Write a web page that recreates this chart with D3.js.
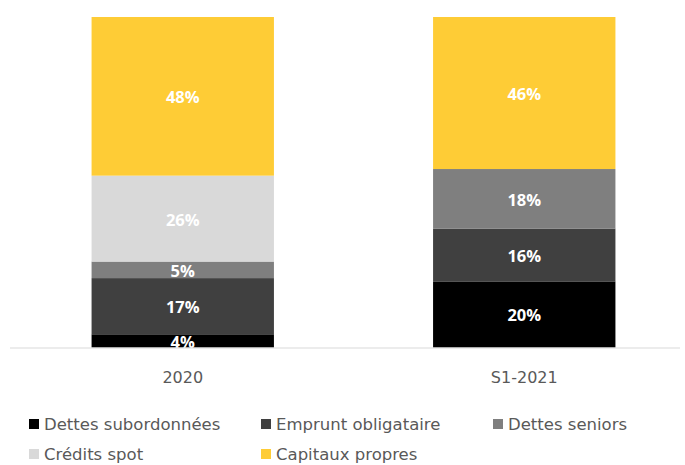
<!DOCTYPE html>
<html>
<head>
<meta charset="utf-8">
<script src="https://cdn.jsdelivr.net/npm/d3@7"></script>
<style>
  body { margin: 0; background: #fff; }
  svg text { font-family: "DejaVu Sans", Verdana, sans-serif; }
</style>
</head>
<body>
<div id="chart-area"></div>
<script>
// data
var categories = ["2020", "S1-2021"];
var seriesNames = ["Dettes subordonnées", "Emprunt obligataire", "Dettes seniors", "Crédits spot", "Capitaux propres"];
var dettesSubordonnees = [4, 20];
var empruntObligataire = [17, 16];
var dettesSeniors = [5, 18];
var creditsSpot = [26, 0];
var capitauxPropres = [48, 46];

var colors = ["#000000", "#404040", "#7f7f7f", "#d9d9d9", "#fecc36"];

var width = 685, height = 465;

var svg = d3.select("#chart-area")
    .append("svg")
        .attr("width", width)
        .attr("height", height);

var rows = categories.map(function(c, i) {
    return {
        cat: c,
        "Dettes subordonnées": dettesSubordonnees[i],
        "Emprunt obligataire": empruntObligataire[i],
        "Dettes seniors": dettesSeniors[i],
        "Crédits spot": creditsSpot[i],
        "Capitaux propres": capitauxPropres[i]
    };
});

var stacked = d3.stack().keys(seriesNames)(rows);

var xScale = d3.scaleBand()
    .domain(categories)
    .range([12, 695])
    .paddingInner(0.466)
    .paddingOuter(0.233);

var yScale = d3.scaleLinear()
    .domain([0, 100])
    .range([347.5, 17]);

var color = d3.scaleOrdinal().domain(seriesNames).range(colors);

var layers = svg.selectAll("g.layer")
    .data(stacked)
    .enter()
    .append("g")
        .attr("class", "layer")
        .attr("fill", function(d) { return color(d.key); });

layers.selectAll("rect")
    .data(function(d) { return d; })
    .enter()
    .append("rect")
        .attr("x", function(d) { return xScale(d.data.cat); })
        .attr("y", function(d) { return yScale(d[1]); })
        .attr("width", xScale.bandwidth())
        .attr("height", function(d) { return yScale(d[0]) - yScale(d[1]); });

// value labels
layers.selectAll("text")
    .data(function(d) { return d.filter(function(p) { return p[1] - p[0] > 0; }); })
    .enter()
    .append("text")
        .attr("x", function(d) { return xScale(d.data.cat) + xScale.bandwidth() / 2; })
        .attr("y", function(d) { return (yScale(d[0]) + yScale(d[1])) / 2 + 1; })
        .attr("dy", "0.36em")
        .attr("text-anchor", "middle")
        .attr("fill", "#ffffff")
        .attr("font-size", "16.5px")
        .attr("font-weight", "bold")
        .style("font-family", "\"Open Sans\", sans-serif")
        .text(function(d) { return (d[1] - d[0]) + "%"; });

// axis
var xAxisCall = d3.axisBottom(xScale).tickSize(0).tickPadding(24);
var xAxis = svg.append("g")
    .attr("transform", "translate(0," + 348 + ")")
    .call(xAxisCall);
xAxis.select(".domain").remove();
xAxis.selectAll("text")
    .attr("font-size", "16px")
    .attr("fill", "#595959")
    .style("font-family", "\"DejaVu Sans\", sans-serif");

svg.append("line")
    .attr("x1", 10)
    .attr("x2", 680)
    .attr("y1", 348)
    .attr("y2", 348)
    .attr("stroke", "#d9d9d9")
    .attr("stroke-width", 1);

// legend
var legendPos = [[29, 424], [261, 424], [493, 424], [29, 454], [261, 454]];
var legend = svg.selectAll("g.legend")
    .data(seriesNames)
    .enter()
    .append("g")
        .attr("class", "legend")
        .attr("transform", function(d, i) {
            return "translate(" + legendPos[i][0] + "," + legendPos[i][1] + ")";
        });

legend.append("rect")
    .attr("x", 0)
    .attr("y", -5)
    .attr("width", 10)
    .attr("height", 10)
    .attr("fill", function(d) { return color(d); });

legend.append("text")
    .attr("x", 15)
    .attr("dy", "0.36em")
    .attr("font-size", "16.5px")
    .attr("fill", "#595959")
    .text(function(d) { return d; });
</script>
</body>
</html>
